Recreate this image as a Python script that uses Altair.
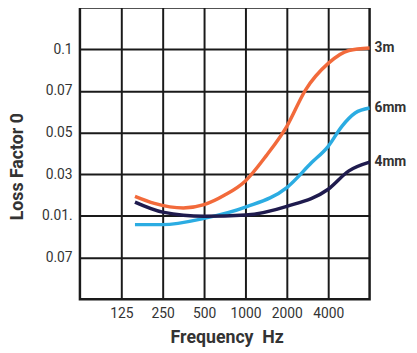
import altair as alt
import pandas as pd

# x positions: octave index (125 Hz -> 1, 250 -> 2, ... 4000 -> 6)
x_ticks = [1, 2, 3, 4, 5, 6]
x_labels = ["125", "250", "500", "1000", "2000", "4000"]
# y positions: grid row index
y_ticks = [1, 2, 3, 4, 5, 6]
y_labels = ["0.07", "0.01.", "0.03", "0.05", "0.07", "0.1"]

series_names = ["3m", "6mm", "4mm"]
colors = ["#F26A3B", "#2BACE2", "#1F1B4E"]

x_3m = [1.33, 1.8, 2.5, 3.0, 3.5, 4.0, 4.5, 5.0, 5.45, 6.0, 6.5, 7.0]
y_3m = [2.47, 2.3, 2.19, 2.27, 2.5, 2.84, 3.44, 4.15, 5.02, 5.66, 5.97, 6.03]

x_6mm = [1.33, 2.0, 3.0, 4.0, 5.0, 5.6, 6.0, 6.33, 6.65, 7.0]
y_6mm = [1.79, 1.79, 1.94, 2.21, 2.68, 3.28, 3.67, 4.15, 4.47, 4.59]

x_4mm = [1.33, 2.0, 3.0, 4.0, 5.0, 6.0, 6.5, 7.0]
y_4mm = [2.33, 2.09, 1.99, 2.02, 2.23, 2.64, 3.08, 3.29]

rows = []
for name, xs, ys in [("3m", x_3m, y_3m), ("6mm", x_6mm, y_6mm), ("4mm", x_4mm, y_4mm)]:
    for i, (a, b) in enumerate(zip(xs, ys)):
        rows.append({"series": name, "x": a, "y": b, "order": i})
df = pd.DataFrame(rows)

ends = pd.DataFrame({
    "series": series_names,
    "x": [x_3m[-1], x_6mm[-1], x_4mm[-1]],
    "y": [y_3m[-1], y_6mm[-1], y_4mm[-1]],
})

xmap = "{" + ",".join(f"'{v}':'{l}'" for v, l in zip(x_ticks, x_labels)) + "}"
ymap = "{" + ",".join(f"'{v}':'{l}'" for v, l in zip(y_ticks, y_labels)) + "}"

x_enc = alt.X("x:Q", scale=alt.Scale(domain=[0, 7], nice=False, zero=False),
              axis=alt.Axis(values=x_ticks, labelExpr=f"{xmap}[datum.value]",
                            title="Frequency\u00a0\u00a0Hz", grid=True, domain=False, ticks=False,
                            labelPadding=8, titleX=149, titleY=44,
                            titleBaseline="alphabetic", titleAlign="center"))
y_enc = alt.Y("y:Q", scale=alt.Scale(domain=[0, 7], nice=False, zero=False),
              axis=alt.Axis(values=y_ticks, labelExpr=f"{ymap}[datum.value]",
                            title="Loss Factor 0", grid=True, domain=False, ticks=False,
                            labelPadding=8, titleX=-63, titleY=161, titleAngle=270,
                            titleBaseline="middle", titleAlign="center"))

lines = alt.Chart(df).mark_line(interpolate="monotone", strokeWidth=3.5).encode(
    x=x_enc, y=y_enc,
    color=alt.Color("series:N", scale=alt.Scale(domain=series_names, range=colors), legend=None),
    order="order:Q",
)

labels = alt.Chart(ends).mark_text(align="left", dx=5, fontSize=14, fontWeight="bold",
                                   color="#333333", font="Roboto").encode(
    x="x:Q", y="y:Q", text="series:N"
)

chart = alt.layer(lines, labels).properties(
    width=294, height=296,
    autosize=alt.AutoSizeParams(type="none"),
    padding={"left": 73, "top": -3, "right": 40, "bottom": 52},
).configure_view(stroke="#1a1a1a", strokeWidth=2.5).configure_axis(
    gridColor="#1a1a1a", gridWidth=2, gridOpacity=1,
    labelFont="Roboto", labelFontSize=14, labelColor="#333333",
    titleFont="Roboto", titleFontSize=18, titleFontWeight="bold", titleColor="#333333",
)

chart.save("out.html", embed_options={"renderer": "svg", "actions": False})
